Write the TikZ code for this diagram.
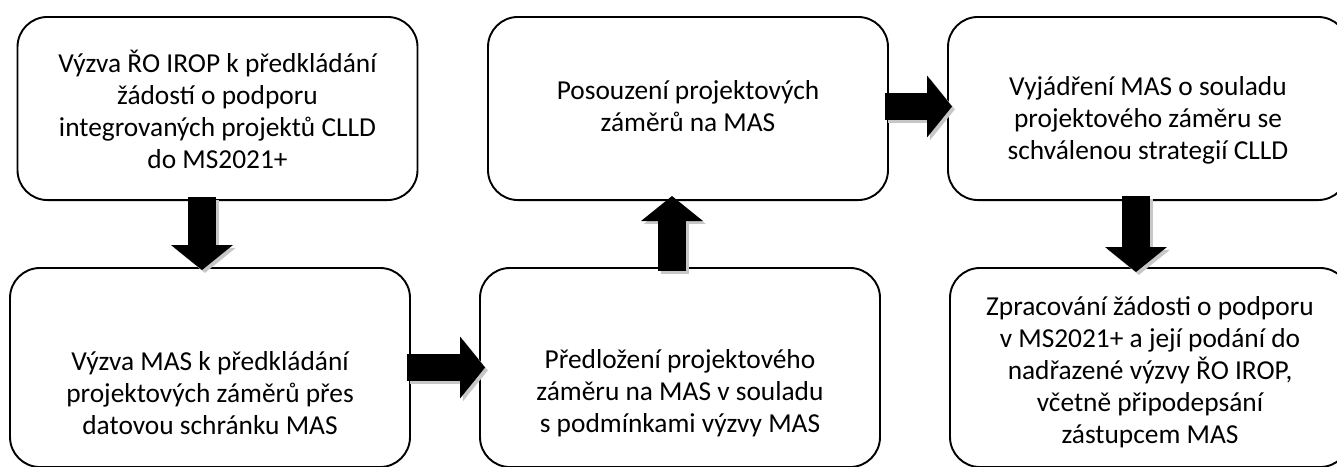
\documentclass[tikz,border=0pt]{standalone}
\usepackage{fontspec}
\setmainfont{Carlito}
\usetikzlibrary{arrows.meta,calc}

\tikzset{
    box/.style={draw, line width=0.8pt, rounded corners=12.6pt, fill=white, minimum width=168pt},
    topbox/.style={box, minimum height=76.9pt},
    lowbox/.style={box, minimum height=83.6pt},
    txt/.style={align=center, font=\fontsize{11.5}{13.45}\selectfont},
    flow/.style={line width=11.5pt, -{Triangle[length=10.5pt, width=26pt, line width=0pt]}},
    flowshadow/.style={flow, black!22, transform canvas={shift={(1.2pt,-1.2pt)}}}
}

\begin{document}
\begin{tikzpicture}[x=0.42pt, y=-0.42pt]

    \useasboundingbox (0,0) rectangle (1337,466);
    \clip (0,0) rectangle (1337,466);

    % Top row
    \node[topbox] (irop) at (217.5,108.5) {};
    \node[txt] (iropText) at ($(irop)+(0,1)$) {Výzva ŘO IROP k předkládání\\žádostí o podporu\\integrovaných projektů CLLD\\do MS2021+};

    \node[topbox] (posouzeni) at (688,108.5) {};
    \node[txt] (posouzeniText) at ($(posouzeni)+(0,-2.5)$) {Posouzení projektových\\záměrů na MAS};

    \node[topbox] (vyjadreni) at (1148,108.5) {};
    \node[txt] (vyjadreniText) at ($(vyjadreni)+(0,12)$) {Vyjádření MAS o souladu\\projektového záměru se\\schválenou strategií CLLD};

    % Bottom row
    \node[lowbox] (vyzvaMas) at (210,367.5) {};
    \node[txt] (vyzvaMasText) at ($(vyzvaMas)+(0,26)$) {Výzva MAS k předkládání\\projektových záměrů přes\\datovou schránku MAS};

    \node[lowbox] (predlozeni) at (680,367.5) {};
    \node[txt] (predlozeniText) at ($(predlozeni)+(0,26)$) {Předložení projektového\\záměru na MAS v souladu\\s podmínkami výzvy MAS};

    \node[lowbox] (zpracovani) at (1150,367.5) {};
    \node[txt] (zpracovaniText) at ($(zpracovani)+(0,5)$) {Zpracování žádosti o podporu\\v MS2021+ a její podání do\\nadřazené výzvy ŘO IROP,\\včetně připodepsání\\zástupcem MAS};

    % Block arrows with shadow
    \draw[flowshadow] ($(irop.south)+(-15.5,-4)$) -- ($(vyzvaMas.north)+(-8,3)$);
    \draw[flow] ($(irop.south)+(-15.5,-4)$) -- ($(vyzvaMas.north)+(-8,3)$);

    \draw[flowshadow] ($(vyzvaMas.east)+(-4,0)$) -- ($(predlozeni.west)+(6,0)$);
    \draw[flow] ($(vyzvaMas.east)+(-4,0)$) -- ($(predlozeni.west)+(6,0)$);

    \draw[flowshadow] ($(predlozeni.north)+(-8,4)$) -- ($(posouzeni.south)+(-16,-5)$);
    \draw[flow] ($(predlozeni.north)+(-8,4)$) -- ($(posouzeni.south)+(-16,-5)$);

    \draw[flowshadow] ($(posouzeni.east)+(-4,-2)$) -- ($(vyjadreni.west)+(5,-2)$);
    \draw[flow] ($(posouzeni.east)+(-4,-2)$) -- ($(vyjadreni.west)+(5,-2)$);

    \draw[flowshadow] ($(vyjadreni.south)+(-12,-5)$) -- ($(zpracovani.north)+(-14,5)$);
    \draw[flow] ($(vyjadreni.south)+(-12,-5)$) -- ($(zpracovani.north)+(-14,5)$);
\end{tikzpicture}
\end{document}
